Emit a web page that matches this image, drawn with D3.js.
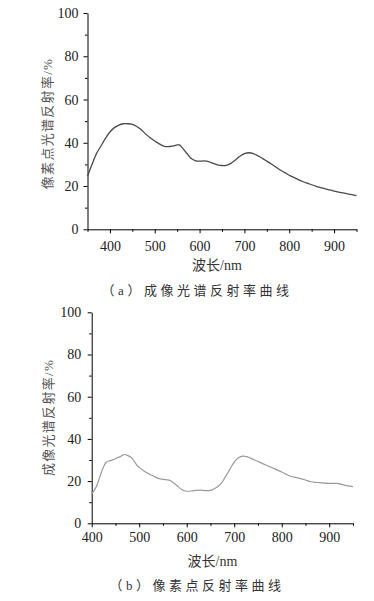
<!DOCTYPE html>
<html>
<head>
<meta charset="utf-8">
<script src="https://cdn.jsdelivr.net/npm/d3@7"></script>
<style>
  body { margin: 0; background: #fff; }
</style>
</head>
<body>
<svg id="chart" width="374" height="601"></svg>
<script>
// (a) imaging spectral reflectance
const wavelengthA = [350,360,370,380,390,400,410,420,430,440,450,460,470,480,490,500,510,520,530,540,550,555,560,570,580,590,600,610,620,630,640,650,660,670,680,690,700,710,720,730,740,750,760,770,780,790,800,810,820,830,840,850,860,870,880,890,900,910,920,930,940,950];
const reflectA = [24.5,30,35,38.5,42,45,47,48.2,48.8,48.8,48.5,47.5,46,44,42.3,40.8,39.5,38.5,38.2,38.5,39,39,38,35.5,33,31.8,31.5,31.6,31.3,30.5,29.8,29.5,29.6,30.5,32,33.8,35,35.4,35,34,32.8,31.5,30.2,28.8,27.4,26.2,25,24,23,22.1,21.3,20.6,19.9,19.3,18.7,18.2,17.7,17.2,16.8,16.4,16,15.6];

// (b) pixel reflectance
const wavelengthB = [400,405,410,415,420,425,430,435,440,445,450,455,460,465,470,475,480,485,490,495,500,510,520,530,540,550,560,565,570,575,580,585,590,595,600,610,620,630,640,650,655,660,665,670,675,680,685,690,695,700,705,710,715,720,725,730,740,750,760,770,780,790,800,810,820,830,840,850,860,870,880,890,900,910,920,930,940,950];
const reflectB = [14,15.5,17.5,20.5,24,26.8,28.8,29.5,29.7,30.2,30.6,31.2,31.6,32.3,32.6,32.2,31.6,30.8,29.2,27.6,26.5,24.8,23.5,22.4,21.3,20.8,20.6,20.3,19.6,18.7,17.8,16.8,16,15.4,15.2,15.3,15.6,15.7,15.5,15.6,16,16.6,17.3,18.3,19.7,21.5,23.3,25.3,27.3,29,30.3,31.2,31.7,31.8,31.6,31.3,30.3,29.3,28.3,27.3,26.3,25.3,24.3,23.2,22.2,21.7,21.2,20.5,19.8,19.4,19.3,19,18.9,18.9,18.8,18.2,17.7,17.4];

const yTicks = [0, 20, 40, 60, 80, 100];
const yMinor = [10, 30, 50, 70, 90];
const xTicksA = [400, 500, 600, 700, 800, 900];
const xMinorA = [350, 450, 550, 650, 750, 850, 950];
const xTicksB = [400, 500, 600, 700, 800, 900];
const xMinorB = [450, 550, 650, 750, 850, 950];

const svg = d3.select("#chart");
const serif = "'Liberation Serif', 'Noto Sans CJK SC', serif";

const panels = [
  {
    wl: wavelengthA, val: reflectA,
    xDomain: [350, 950], xRange: [87.5, 356.5], yRange: [229.3, 13],
    xTicks: xTicksA, xMinor: xMinorA, xPad: 7.5, yPad: 5,
    stroke: "#4a4a4a", width: 1.3,
    yLabel: "像素点光谱反射率/%", yLabelPos: [47.5, 123.5],
    xLabel: "波长/nm", xLabelPos: [217, 270],
    caption: "（a）成像光谱反射率曲线", captionPos: [197, 295]
  },
  {
    wl: wavelengthB, val: reflectB,
    xDomain: [400, 950], xRange: [91.7, 353], yRange: [523.3, 312.3],
    xTicks: xTicksB, xMinor: xMinorB, xPad: 4.5, yPad: 6.5,
    stroke: "#9a9a9a", width: 1.2,
    yLabel: "成像光谱反射率/%", yLabelPos: [48.5, 417.5],
    xLabel: "波长/nm", xLabelPos: [212.5, 566],
    caption: "（b）像素点反射率曲线", captionPos: [197, 590]
  }
];

function styleTicks(g) {
  g.selectAll("text")
    .style("font-family", "'Liberation Serif', serif")
    .style("font-size", "14px")
    .style("fill", "#222");
}

panels.forEach(p => {
  const x = d3.scaleLinear().domain(p.xDomain).range(p.xRange);
  const y = d3.scaleLinear().domain([0, 100]).range(p.yRange);

  // minor ticks
  svg.append("g")
    .attr("transform", `translate(0,${p.yRange[0]})`)
    .call(d3.axisBottom(x).tickValues(p.xMinor).tickSize(2.5).tickFormat(""))
    .call(g => g.select(".domain").remove());
  svg.append("g")
    .attr("transform", `translate(${p.xRange[0]},0)`)
    .call(d3.axisLeft(y).tickValues(yMinor).tickSize(2.5).tickFormat(""))
    .call(g => g.select(".domain").remove());

  // major axes
  svg.append("g")
    .attr("transform", `translate(0,${p.yRange[0]})`)
    .call(d3.axisBottom(x).tickValues(p.xTicks).tickSize(4).tickSizeOuter(0).tickPadding(p.xPad))
    .call(styleTicks);
  svg.append("g")
    .attr("transform", `translate(${p.xRange[0]},0)`)
    .call(d3.axisLeft(y).tickValues(yTicks).tickSize(4).tickSizeOuter(0).tickPadding(p.yPad))
    .call(styleTicks);

  const line = d3.line()
    .x((d, i) => x(p.wl[i]))
    .y(d => y(d))
    .curve(d3.curveCatmullRom);

  svg.append("path")
    .datum(p.val)
    .attr("fill", "none")
    .attr("stroke", p.stroke)
    .attr("stroke-width", p.width)
    .attr("d", line);

  svg.append("text")
    .attr("transform", `translate(${p.yLabelPos[0]},${p.yLabelPos[1]}) rotate(-90)`)
    .attr("text-anchor", "middle")
    .attr("dy", "0.35em")
    .style("font-family", serif)
    .style("font-size", "13px")
    .style("letter-spacing", "1.3px")
    .style("fill", "#555")
    .text(p.yLabel);

  svg.append("text")
    .attr("x", p.xLabelPos[0])
    .attr("y", p.xLabelPos[1])
    .attr("text-anchor", "middle")
    .style("font-family", serif)
    .style("font-size", "14px")
    .style("fill", "#333")
    .text(p.xLabel);

  svg.append("text")
    .attr("x", p.captionPos[0])
    .attr("y", p.captionPos[1])
    .attr("text-anchor", "middle")
    .style("font-family", serif)
    .style("font-size", "13px")
    .style("letter-spacing", "3.5px")
    .style("fill", "#333")
    .text(p.caption);
});
</script>
</body>
</html>
